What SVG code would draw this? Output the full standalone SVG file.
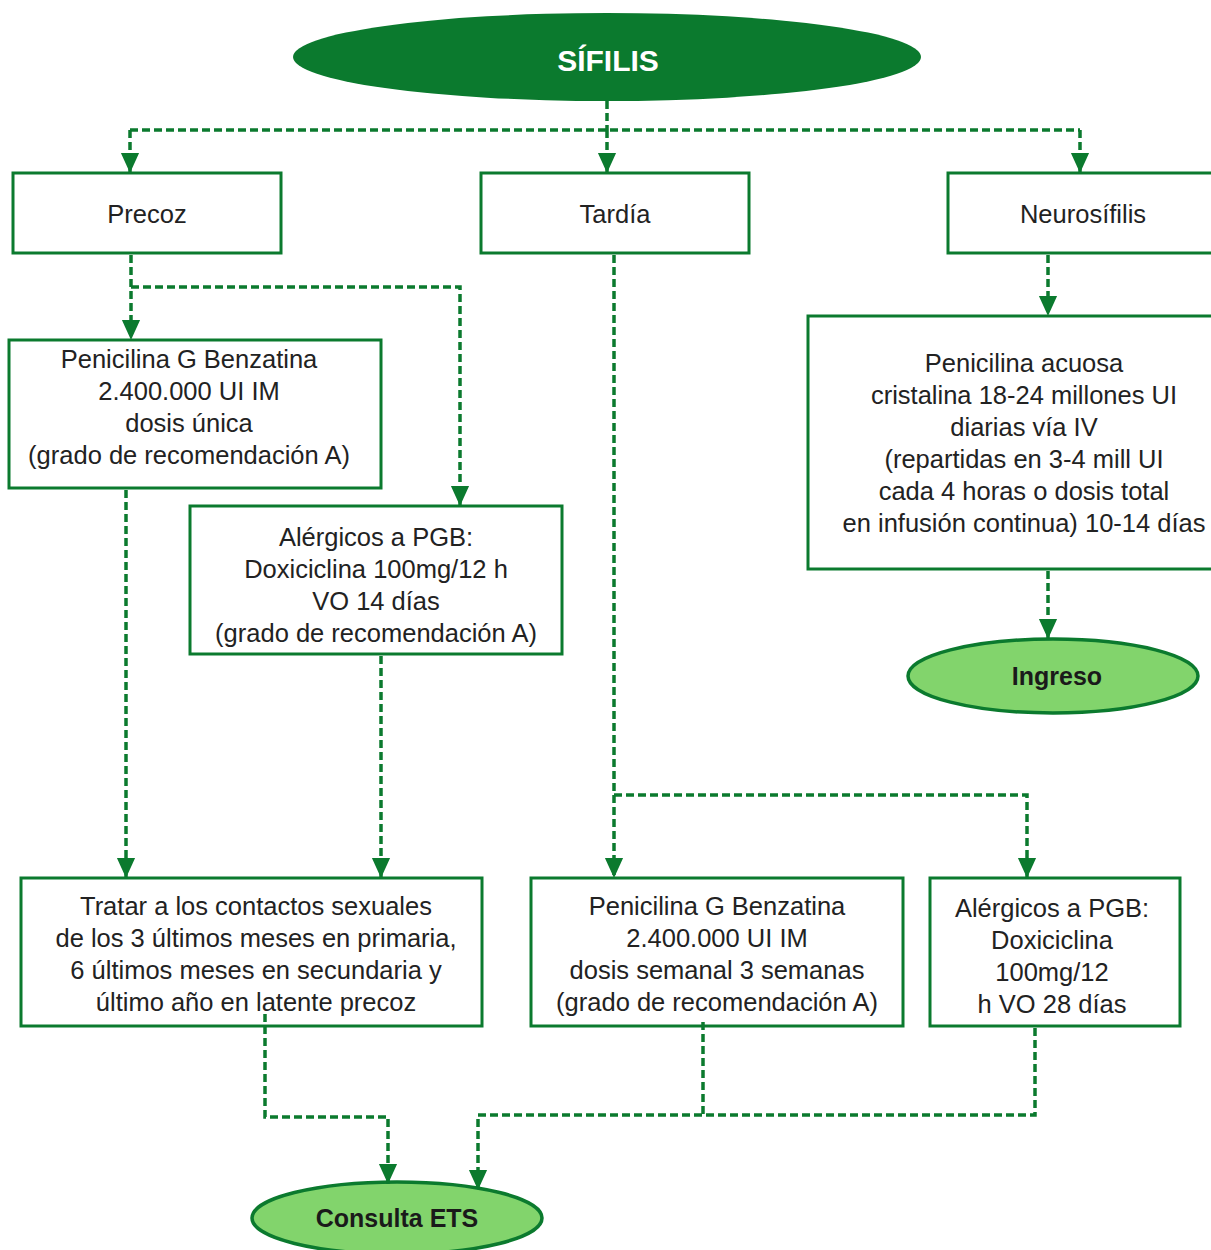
<svg xmlns="http://www.w3.org/2000/svg" width="1211" height="1250" viewBox="0 0 1211 1250">
  <defs>
    <style>
      .box { fill: #ffffff; stroke: #0b7a2e; stroke-width: 3; }
      .term { fill: #0b7a2e; }
      .end { fill: #82d46c; stroke: #0b7a2e; stroke-width: 3.5; }
      .lbl { font-family: "Liberation Sans", Arial, sans-serif; font-size: 25.5px; fill: #222; text-anchor: middle; }
      .bold { font-family: "Liberation Sans", Arial, sans-serif; font-weight: bold; text-anchor: middle; }
      .link { fill: none; stroke: #0b7a2e; stroke-width: 3.5; stroke-dasharray: 8 4; }
    </style>
    <marker id="tip" markerUnits="userSpaceOnUse" markerWidth="20" markerHeight="22" refX="22" refY="10" orient="auto" viewBox="0 0 22 20">
      <path d="M0,0 L22,10 L0,20 Z" fill="#0b7a2e"/>
    </marker>
  </defs>

  <rect width="1211" height="1250" fill="#ffffff"/>

  <!-- start -->
  <g id="sifilis">
    <ellipse class="term" cx="607" cy="57" rx="314" ry="44"/>
    <text class="bold" x="608" y="71" font-size="30" fill="#ffffff">SÍFILIS</text>
  </g>

  <g id="precoz">
    <rect class="box" x="13" y="173" width="268" height="80"/>
    <text class="lbl" x="147" y="223">Precoz</text>
  </g>

  <g id="tardia">
    <rect class="box" x="481" y="173" width="268" height="80"/>
    <text class="lbl" x="615" y="223">Tardía</text>
  </g>

  <g id="neurosifilis">
    <rect class="box" x="948" y="173" width="275" height="80"/>
    <text class="lbl" x="1083" y="223">Neurosífilis</text>
  </g>

  <g id="penicilina-precoz">
    <rect class="box" x="9" y="340" width="372" height="148"/>
    <text class="lbl" x="189" y="368">Penicilina G Benzatina</text>
    <text class="lbl" x="189" y="400">2.400.000 UI IM</text>
    <text class="lbl" x="189" y="432">dosis única</text>
    <text class="lbl" x="189" y="464">(grado de recomendación A)</text>
  </g>

  <g id="alergicos-precoz">
    <rect class="box" x="190" y="506" width="372" height="148"/>
    <text class="lbl" x="376" y="546">Alérgicos a PGB:</text>
    <text class="lbl" x="376" y="578">Doxiciclina 100mg/12 h</text>
    <text class="lbl" x="376" y="610">VO  14 días</text>
    <text class="lbl" x="376" y="642">(grado de recomendación A)</text>
  </g>

  <g id="penicilina-acuosa">
    <rect class="box" x="808" y="316" width="415" height="253"/>
    <text class="lbl" x="1024" y="372">Penicilina acuosa</text>
    <text class="lbl" x="1024" y="404">cristalina 18-24 millones UI</text>
    <text class="lbl" x="1024" y="436">diarias vía IV</text>
    <text class="lbl" x="1024" y="468">(repartidas en 3-4 mill UI</text>
    <text class="lbl" x="1024" y="500">cada 4 horas o dosis total</text>
    <text class="lbl" x="1024" y="532">en infusión continua) 10-14 días</text>
  </g>

  <g id="ingreso">
    <ellipse class="end" cx="1053" cy="676" rx="145" ry="37"/>
    <text class="bold" x="1057" y="685" font-size="25" fill="#1a1a1a">Ingreso</text>
  </g>

  <g id="contactos">
    <rect class="box" x="21" y="878" width="461" height="148"/>
    <text class="lbl" x="256" y="915">Tratar a los contactos sexuales</text>
    <text class="lbl" x="256" y="947">de los 3 últimos meses en primaria,</text>
    <text class="lbl" x="256" y="979">6 últimos meses en secundaria y</text>
    <text class="lbl" x="256" y="1011">último año en latente precoz</text>
  </g>

  <g id="penicilina-tardia">
    <rect class="box" x="531" y="878" width="372" height="148"/>
    <text class="lbl" x="717" y="915">Penicilina G Benzatina</text>
    <text class="lbl" x="717" y="947">2.400.000 UI IM</text>
    <text class="lbl" x="717" y="979">dosis semanal 3 semanas</text>
    <text class="lbl" x="717" y="1011">(grado de recomendación A)</text>
  </g>

  <g id="alergicos-tardia">
    <rect class="box" x="930" y="878" width="250" height="148"/>
    <text class="lbl" x="1052" y="917">Alérgicos a PGB:</text>
    <text class="lbl" x="1052" y="949">Doxiciclina</text>
    <text class="lbl" x="1052" y="981">100mg/12</text>
    <text class="lbl" x="1052" y="1013">h VO 28 días</text>
  </g>

  <g id="consulta-ets">
    <ellipse class="end" cx="397" cy="1218" rx="145" ry="36"/>
    <text class="bold" x="397" y="1227" font-size="25" fill="#1a1a1a">Consulta ETS</text>
  </g>

  <!-- connectors, drawn last so the lower stubs show inside their boxes -->
  <g id="connectors">
    <path class="link" d="M607,101 V130"/>
    <path class="link" d="M130,130 H1080"/>
    <path class="link" d="M130,130 V173" marker-end="url(#tip)"/>
    <path class="link" d="M607,130 V173" marker-end="url(#tip)"/>
    <path class="link" d="M1080,130 V173" marker-end="url(#tip)"/>

    <path class="link" d="M131,255 V340" marker-end="url(#tip)"/>
    <path class="link" d="M131,287 H460 V506" marker-end="url(#tip)"/>

    <path class="link" d="M1048,255 V316" marker-end="url(#tip)"/>
    <path class="link" d="M1048,571 V639" marker-end="url(#tip)"/>

    <path class="link" d="M126,490 V878" marker-end="url(#tip)"/>
    <path class="link" d="M381,656 V878" marker-end="url(#tip)"/>

    <path class="link" d="M614,255 V878" marker-end="url(#tip)"/>
    <path class="link" d="M614,795 H1027 V878" marker-end="url(#tip)"/>

    <path class="link" d="M265,1014 V1117 H388 V1184" marker-end="url(#tip)"/>
    <path class="link" d="M703,1022 V1115"/>
    <path class="link" d="M1035,1028 V1115 H478 V1190" marker-end="url(#tip)"/>
  </g>
</svg>
